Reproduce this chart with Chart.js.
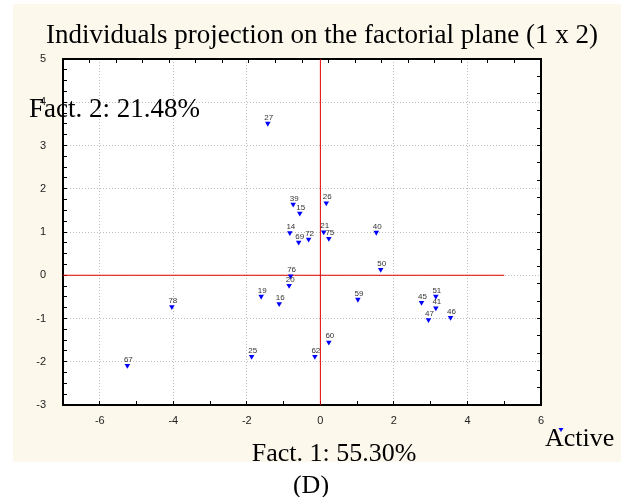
<!DOCTYPE html>
<html>
<head>
<meta charset="utf-8">
<script src="https://cdn.jsdelivr.net/npm/chart.js@4.4.1/dist/chart.umd.min.js"></script>
<style>
  body { margin: 0; background: #fff; }
  #wrap { width: 621px; height: 497px; position: relative; }
</style>
</head>
<body>
<div id="wrap"><canvas id="pcaChart"></canvas></div>
<script>
// ------------------ Data ------------------
const caseIds = ["27", "39", "15", "26", "14", "69", "72", "21", "75", "40", "50", "59", "45",
                 "51", "41", "47", "46", "60", "62", "76", "20", "19", "16", "78", "25", "67"];
const fact1 = [-1.43, -0.74, -0.56, 0.16, -0.83, -0.59, -0.32, 0.09, 0.23, 1.52, 1.64, 1.02, 2.75,
               3.14, 3.14, 2.94, 3.54, 0.23, -0.15, -0.81, -0.85, -1.61, -1.12, -4.04, -1.87, -5.25];
const fact2 = [3.51, 1.64, 1.43, 1.67, 0.98, 0.76, 0.83, 1.00, 0.85, 0.99, 0.13, -0.56, -0.63,
               -0.49, -0.76, -1.03, -0.98, -1.55, -1.88, -0.02, -0.24, -0.49, -0.66, -0.73, -1.88, -2.09];

// axis ranges and tick labels
const xRange = [-7, 6];
const yRange = [-3, 5];
const xLabels = [-6, -4, -2, 0, 2, 4, 6];
const yLabels = [5, 4, 3, 2, 1, 0, -1, -2, -3];

// origin lines (red)
const originV = [{ x: 0, y: -3 }, { x: 0, y: 5 }];
const originH = [{ x: -7, y: 0 }, { x: 5, y: 0 }];

const titleText = "Individuals projection on the factorial plane (1 x 2)";
const xTitle = "Fact. 1: 55.30%";
const yTitle = "Fact. 2: 21.48%";
const legendText = "Active";
const panelTag = "(D)";

const points = fact1.map((v, i) => ({ x: v, y: fact2[i], id: caseIds[i] }));

const serif = '"Liberation Serif", "Times New Roman", serif';
const sans = '"Liberation Sans", Arial, sans-serif';

// ------------------ Background + texts ------------------
const decor = {
    id: "decor",
    beforeDraw(chart) {
        const ctx = chart.ctx;
        const a = chart.chartArea;
        ctx.save();
        ctx.fillStyle = "#fdf8ec";
        ctx.fillRect(13, 4, 608, 458);
        ctx.fillStyle = "#ffffff";
        ctx.fillRect(a.left, a.top, a.right - a.left, a.bottom - a.top);
        ctx.restore();
    },
    afterDatasetsDraw(chart) {
        const ctx = chart.ctx;
        ctx.save();
        // point labels
        ctx.font = "8px " + sans;
        ctx.fillStyle = "#333";
        ctx.textAlign = "center";
        ctx.textBaseline = "bottom";
        const meta = chart.getDatasetMeta(0);
        meta.data.forEach((el, i) => {
            ctx.fillText(points[i].id, el.x + 1, el.y - 2);
        });
        ctx.restore();
    },
    afterDraw(chart) {
        const ctx = chart.ctx;
        ctx.save();
        ctx.fillStyle = "#000";
        ctx.textBaseline = "alphabetic";
        ctx.font = "27px " + serif;
        ctx.textAlign = "center";
        ctx.fillText(titleText, 322, 43);
        ctx.font = "26px " + serif;
        ctx.fillText(xTitle, 334, 461);
        ctx.fillText(panelTag, 311, 493);
        ctx.textAlign = "left";
        ctx.fillText(legendText, 545, 446);
        ctx.font = "27px " + serif;
        ctx.fillText(yTitle, 29, 117);
        // legend marker
        ctx.fillStyle = "#0000ff";
        ctx.beginPath();
        ctx.moveTo(558.5, 428);
        ctx.lineTo(563.5, 428);
        ctx.lineTo(561, 432);
        ctx.closePath();
        ctx.fill();
        ctx.restore();
    }
};

// ------------------ Chart ------------------
const ctx = document.getElementById("pcaChart").getContext("2d");
const myChart = new Chart(ctx, {
    type: "scatter",
    data: {
        datasets: [
            {
                label: "Active",
                data: points,
                pointStyle: "triangle",
                rotation: 180,
                pointRadius: 3.2,
                backgroundColor: "#0000ff",
                borderColor: "#0000ff",
                borderWidth: 0,
            },
            {
                data: originV,
                showLine: true,
                borderColor: "#e00000",
                borderWidth: 1,
                pointRadius: 0,
            },
            {
                data: originH,
                showLine: true,
                borderColor: "#e00000",
                borderWidth: 1,
                pointRadius: 0,
            },
        ],
    },
    options: {
        responsive: true,
        maintainAspectRatio: false,
        animation: false,
        layout: { padding: { top: 59, right: 80, left: 0, bottom: 0 } },
        plugins: {
            legend: { display: false },
            tooltip: { enabled: false },
        },
        scales: {
            x: {
                type: "linear",
                position: "bottom",
                min: xRange[0],
                max: xRange[1],
                afterFit: (s) => { s.height = 92; },
                ticks: {
                    stepSize: 1,
                    autoSkip: false,
                    maxRotation: 0,
                    padding: 13,
                    color: "#222",
                    font: { family: sans, size: 11 },
                    callback: (v) => (xLabels.includes(v) ? String(v) : ""),
                },
                grid: {
                    color: (c) => (c.tick && c.tick.value % 2 === 0 && c.tick.value !== 0 && c.tick.value !== 6 ? "#bdbdbd" : "rgba(0,0,0,0)"),
                    tickColor: "#000",
                    tickLength: -4,
                    lineWidth: 1,
                },
                border: { color: "#000", width: 2, dash: [1, 2] },
            },
            xTop: {
                type: "linear",
                position: "top",
                min: 0,
                max: 18,
                afterFit: (s) => { s.height = 0; },
                ticks: { stepSize: 1, display: false, autoSkip: false },
                grid: { drawOnChartArea: false, tickColor: "#000", tickLength: -4 },
                border: { color: "#000", width: 2 },
            },
            y: {
                type: "linear",
                position: "left",
                min: yRange[0],
                max: yRange[1],
                afterFit: (s) => { s.width = 63; },
                ticks: {
                    stepSize: 0.25,
                    autoSkip: false,
                    padding: 21,
                    color: "#222",
                    font: { family: sans, size: 11 },
                    callback: (v) => (yLabels.includes(v) ? String(v) : ""),
                },
                grid: {
                    color: (c) => (c.tick && Number.isInteger(c.tick.value) && c.tick.value !== 5 && c.tick.value !== -3 ? "#bdbdbd" : "rgba(0,0,0,0)"),
                    tickColor: "#000",
                    tickLength: -4,
                    lineWidth: 1,
                },
                border: { color: "#000", width: 2, dash: [1, 2] },
            },
            yRight: {
                type: "linear",
                position: "right",
                min: 0,
                max: 20,
                afterFit: (s) => { s.width = 0; },
                ticks: { stepSize: 1, display: false, autoSkip: false },
                grid: { drawOnChartArea: false, tickColor: "#000", tickLength: -4 },
                border: { color: "#000", width: 2 },
            },
        },
    },
    plugins: [decor],
});
</script>
</body>
</html>
